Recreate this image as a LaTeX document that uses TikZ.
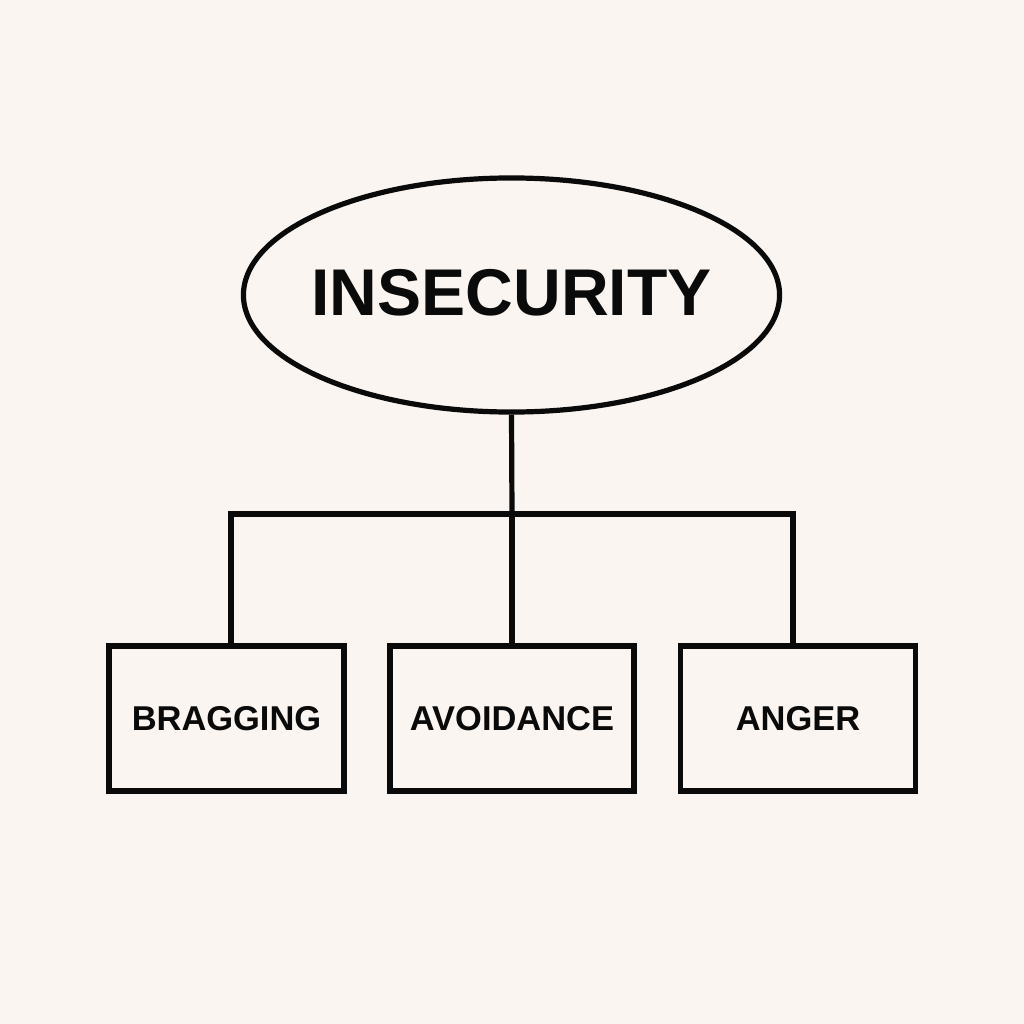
\documentclass[tikz,border=0pt]{standalone}
\usepackage{fontspec}
\setmainfont{Liberation Sans}
\usetikzlibrary{shapes.geometric}
\definecolor{bg}{HTML}{FAF5F0}
\definecolor{ink}{HTML}{0A0A0A}
\begin{document}
\begin{tikzpicture}[x=0.025cm,y=-0.025cm,
  line/.style={draw=ink,line width=0.13cm},
  leaf/.style={line,rectangle,minimum width=5.875cm,minimum height=3.625cm,inner sep=0pt,
     font=\fontsize{24.5}{28}\selectfont\bfseries,text=ink}]
\fill[bg] (0,0) rectangle (1024,1024);
\useasboundingbox (0,0) rectangle (1024,1024);
\node[line,ellipse,minimum width=13.4cm,minimum height=5.85cm,inner sep=0pt] (top) at (511.5,295) {};
\node[font=\fontsize{47}{52}\selectfont\bfseries,text=ink,inner sep=0pt,anchor=base] (toplabel) at (511.5,315) {INSECURITY};
\node[leaf] (b1) at (226.5,718.5) {BRAGGING};
\node[leaf,minimum width=6.1cm] (b2) at (512,718.5) {AVOIDANCE};
\node[leaf] (b3) at (798,718.5) {ANGER};
\coordinate (j) at (512,514);
\draw[line] (top.south) -- (j);
\draw[line] (b1.north -| 231,0) |- (j) -| (b3.north -| 793,0);
\draw[line] (j) -- (b2.north);
\end{tikzpicture}
\end{document}
